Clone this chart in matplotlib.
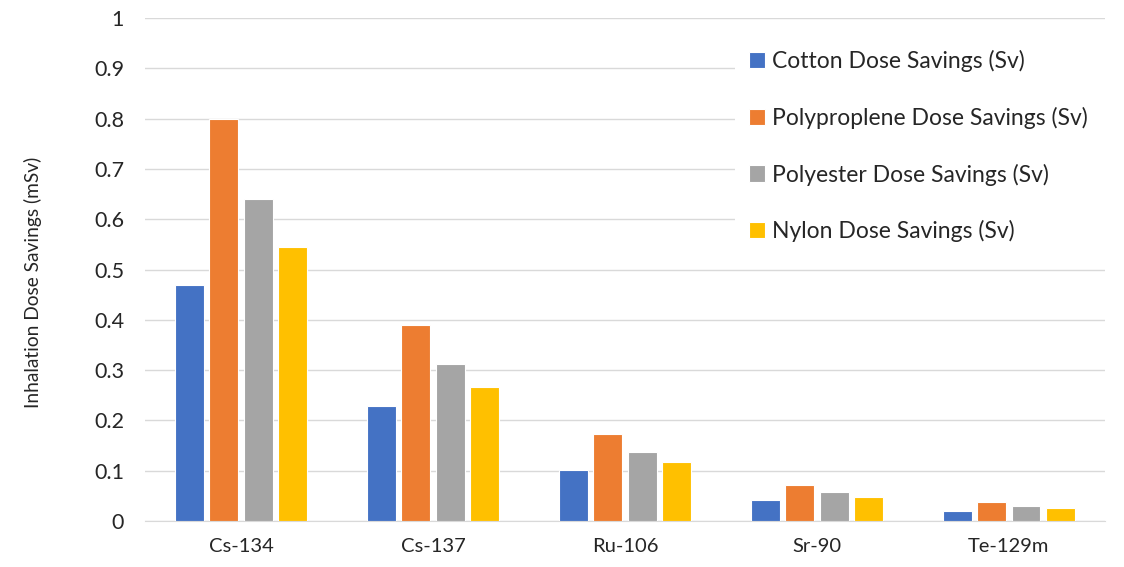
import numpy as np
import matplotlib.pyplot as plt
from matplotlib.patches import Rectangle

isotopes = ["Cs-134", "Cs-137", "Ru-106", "Sr-90", "Te-129m"]
cotton = [0.470, 0.228, 0.102, 0.042, 0.021]
polypropylene = [0.800, 0.390, 0.173, 0.072, 0.037]
polyester = [0.641, 0.312, 0.138, 0.057, 0.030]
nylon = [0.545, 0.266, 0.118, 0.048, 0.026]

series_names = ["Cotton Dose Savings (Sv)", "Polyproplene Dose Savings (Sv)",
                "Polyester Dose Savings (Sv)", "Nylon Dose Savings (Sv)"]
colors = ["#4472C4", "#ED7D31", "#A5A5A5", "#FFC000"]

plt.rcParams['font.family'] = ['Lato', 'DejaVu Sans']

fig = plt.figure(figsize=(11.24, 5.67), dpi=100, facecolor='white')
ax = fig.add_axes([0.129, 0.081, 0.854, 0.887])

x = np.arange(len(isotopes))
pitch = 0.179
width = 0.15
all_series = [cotton, polypropylene, polyester, nylon]
for i, vals in enumerate(all_series):
    offset = (i - 1.5) * pitch
    ax.bar(x + offset, vals, width, color=colors[i], label=series_names[i],
           edgecolor='white', linewidth=0.8, zorder=3)

ax.set_ylim(0, 1)
ax.set_xlim(-0.5, len(isotopes) - 0.5)
ax.set_yticks(np.arange(0, 1.01, 0.1))
ax.set_yticklabels(["0"] + ["%.1f" % v for v in np.arange(0.1, 0.95, 0.1)] + ["1"])
ax.set_xticks(x)
ax.set_xticklabels(isotopes)
ax.tick_params(axis='both', length=0, colors='#262626')
ax.tick_params(axis='x', pad=12, labelsize=14.5)
ax.tick_params(axis='y', pad=15, labelsize=15.5)

ax.grid(axis='y', color='#D9D9D9', linewidth=1, zorder=0)
for s in ['top', 'right', 'left']:
    ax.spines[s].set_visible(False)
ax.spines['bottom'].set_color('#D9D9D9')

fig.text(33 / 1124, 0.502, "Inhalation Dose Savings (mSv)", rotation=90,
         ha='center', va='center', fontsize=13.8, color='#262626')

# white box behind the legend hides the gridlines out to the right edge
ax.add_patch(Rectangle((0.615, 0.53), 0.39, 0.445, transform=ax.transAxes,
                       facecolor='white', edgecolor='none', zorder=2, clip_on=False))

leg = ax.legend(loc='upper left', bbox_to_anchor=(0.61, 0.974),
                frameon=False, fontsize=16.5, handlelength=0.7, handleheight=0.7,
                handletextpad=0.3, labelspacing=1.52, borderpad=0.3)
leg.set_zorder(5)
for t in leg.get_texts():
    t.set_color('#262626')

fig.savefig("out.png", dpi=100)
